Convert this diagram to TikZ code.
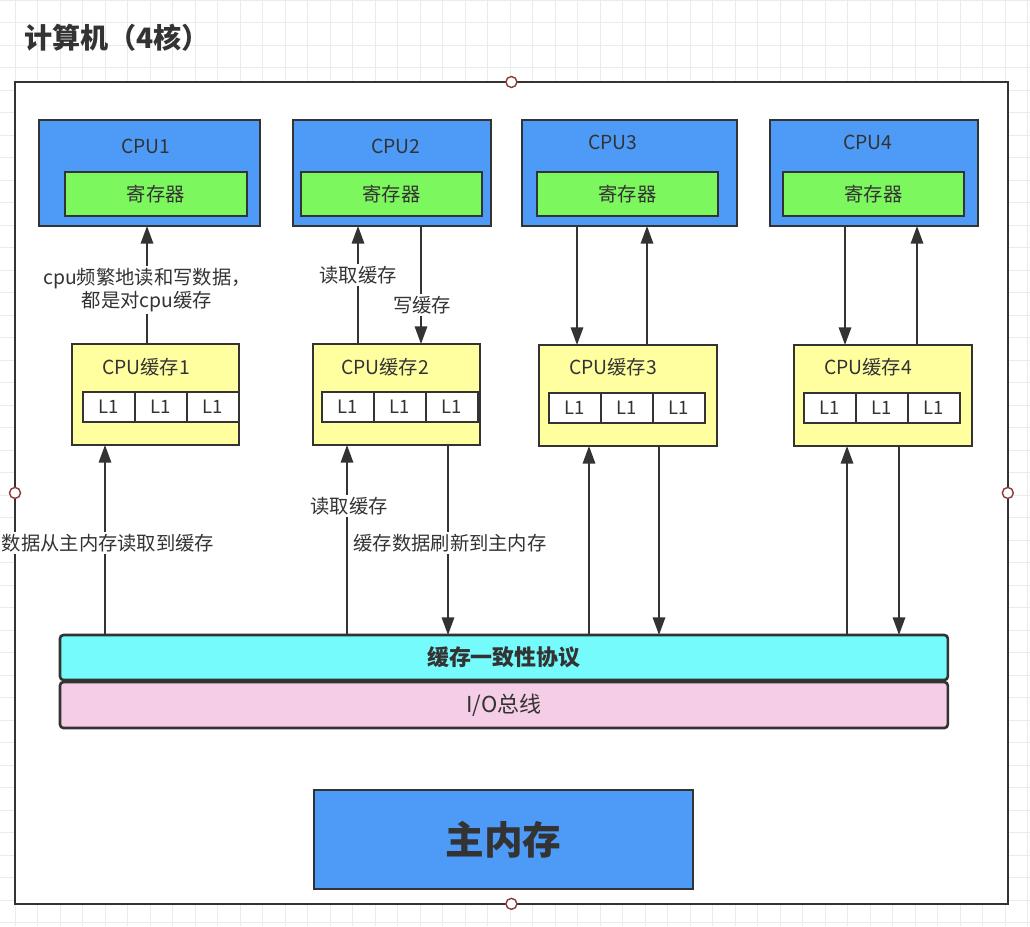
\documentclass[tikz,border=0pt]{standalone}
\usepackage{fontspec}
\setmainfont{Noto Sans CJK SC}
\usetikzlibrary{arrows.meta,positioning}
\definecolor{ink}{HTML}{333333}
\definecolor{cpublue}{HTML}{4E9BF7}
\definecolor{reggreen}{HTML}{7DF75E}
\definecolor{cacheyel}{HTML}{FFFFA0}
\definecolor{protcyan}{HTML}{76FBFD}
\definecolor{buspink}{HTML}{F6CDE6}
\definecolor{handred}{HTML}{8B3A3A}
\definecolor{gridgray}{HTML}{EBEBEB}
\tikzset{
  gridl/.style={draw=gridgray, line width=0.5pt},
  frame/.style={draw=ink, line width=1.2pt, fill=white, anchor=north west, inner sep=0pt, outer sep=0pt},
  handle/.style={circle, draw=handred, line width=0.8pt, fill=white, minimum size=0.22cm, inner sep=0pt},
  box/.style={draw=ink, line width=1.5pt, anchor=north west, inner sep=0pt, outer sep=0pt},
  cpu/.style={box, fill=cpublue, minimum height=2.12cm},
  reg/.style={box, fill=reggreen, minimum height=0.88cm},
  cache/.style={box, fill=cacheyel, minimum height=2.02cm},
  lone/.style={box, fill=white, minimum width=1.04cm, minimum height=0.6cm, font=\fontsize{10.5}{12}\selectfont},
  bar/.style={box, rounded corners=2pt, minimum width=17.76cm, font=\fontsize{12.5}{15}\selectfont},
  link/.style={draw=ink, line width=1.2pt, -{Triangle[length=10pt, width=7pt]}},
  tag/.style={fill=white, inner sep=1pt, align=center}
}

\begin{document}
\begin{tikzpicture}[x=0.02cm, y=-0.02cm, every node/.style={text=ink, font=\fontsize{11}{13.5}\selectfont}]
\useasboundingbox (0,0) rectangle (1030,926);
% background grid
\foreach \gx in {15,37.5,...,1030} \draw[gridl] (\gx,0) -- (\gx,926);
\foreach \gy in {0,22.5,...,926} \draw[gridl] (0,\gy) -- (1030,\gy);

\node[anchor=west, font=\fontsize{16}{19}\selectfont\bfseries] (title) at (18,38) {计算机（4核）};
\node[frame, minimum width=19.86cm, minimum height=16.44cm] (pc) at (15,82) {};

% cores
\node[cpu, minimum width=4.42cm] (cpu1) at (39,120) {};
\node[cpu, minimum width=3.96cm] (cpu2) at (293,120) {};
\node[cpu, minimum width=4.30cm] (cpu3) at (522,120) {};
\node[cpu, minimum width=4.16cm] (cpu4) at (770,120) {};
\node (n1) at (146,146) {CPU1};
\node (n2) at (396,146) {CPU2};
\node (n3) at (613,142) {CPU3};
\node (n4) at (868,142) {CPU4};
\node[reg, minimum width=3.64cm] (r1) at (65,172) {寄存器};
\node[reg, minimum width=3.62cm] (r2) at (301,172) {寄存器};
\node[reg, minimum width=3.62cm] (r3) at (537,172) {寄存器};
\node[reg, minimum width=3.62cm] (r4) at (783,172) {寄存器};

% caches
\node[cache, minimum width=3.34cm] (c1) at (72,344) {};
\node[cache, minimum width=3.34cm] (c2) at (313,344) {};
\node[cache, minimum width=3.56cm] (c3) at (539,345) {};
\node[cache, minimum width=3.56cm] (c4) at (794,345) {};
\node (m1) at (146,367) {CPU缓存1};
\node (m2) at (385,367) {CPU缓存2};
\node (m3) at (613,367) {CPU缓存3};
\node (m4) at (868,367) {CPU缓存4};
\node[lone] (l11) at (83,392) {L1};
\node[lone, right=0pt of l11] (l12) {L1};
\node[lone, right=0pt of l12] (l13) {L1};
\node[lone] (l21) at (322,392) {L1};
\node[lone, right=0pt of l21] (l22) {L1};
\node[lone, right=0pt of l22] (l23) {L1};
\node[lone] (l31) at (549,393) {L1};
\node[lone, right=0pt of l31] (l32) {L1};
\node[lone, right=0pt of l32] (l33) {L1};
\node[lone] (l41) at (804,393) {L1};
\node[lone, right=0pt of l41] (l42) {L1};
\node[lone, right=0pt of l42] (l43) {L1};

% buses and memory
\node[bar, fill=protcyan, minimum height=0.9cm, font=\fontsize{12.5}{15}\selectfont\bfseries] (proto) at (60,635) {缓存一致性协议};
\node[bar, fill=buspink, minimum height=0.92cm] (io) at (60,682) {I/O总线};
\node[box, fill=cpublue, minimum width=7.58cm, minimum height=1.98cm, font=\fontsize{22}{26}\selectfont\bfseries] (mem) at (314,790) {主内存};

% cpu <-> cache
\draw[link] (c1.north -| 147,0) -- (cpu1.south -| 147,0);
\draw[link] (c2.north -| 358,0) -- (cpu2.south -| 358,0);
\draw[link] (cpu2.south -| 421,0) -- (c2.north -| 421,0);
\draw[link] (cpu3.south -| 577,0) -- (c3.north -| 577,0);
\draw[link] (c3.north -| 647,0) -- (cpu3.south -| 647,0);
\draw[link] (cpu4.south -| 845,0) -- (c4.north -| 845,0);
\draw[link] (c4.north -| 917,0) -- (cpu4.south -| 917,0);
% cache <-> bus
\draw[link] (proto.north -| 105,0) -- (c1.south -| 105,0);
\draw[link] (proto.north -| 347,0) -- (c2.south -| 347,0);
\draw[link] (c2.south -| 448,0) -- (proto.north -| 448,0);
\draw[link] (proto.north -| 589,0) -- (c3.south -| 589,0);
\draw[link] (c3.south -| 659,0) -- (proto.north -| 659,0);
\draw[link] (proto.north -| 847,0) -- (c4.south -| 847,0);
\draw[link] (c4.south -| 899,0) -- (proto.north -| 899,0);

\node[tag] (t1) at (147,290) {cpu频繁地读和写数据，\\都是对cpu缓存};
\node[tag] (t2) at (358,275) {读取缓存};
\node[tag] (t3) at (422,305) {写缓存};
\node[tag] (t4) at (108,543) {数据从主内存读取到缓存};
\node[tag] (t5) at (349,506) {读取缓存};
\node[tag] (t6) at (450,543) {缓存数据刷新到主内存};

\foreach \a in {north,south,east,west} \node[handle] (h-\a) at (pc.\a) {};
\end{tikzpicture}
\end{document}
